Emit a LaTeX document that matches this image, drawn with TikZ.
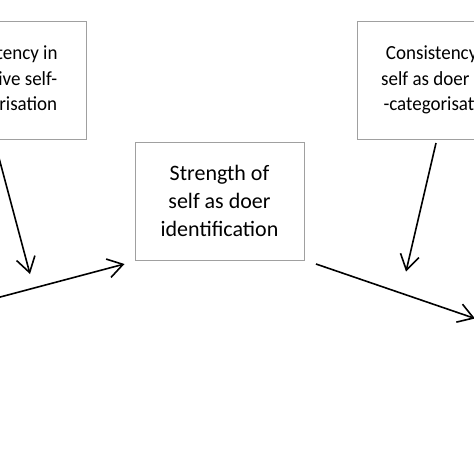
\documentclass[tikz,border=0pt]{standalone}
\usepackage{fontspec}
\setmainfont{Carlito}
\newfontfamily\narrowfont[FakeStretch=0.95]{Carlito}
\usetikzlibrary{arrows.meta}
\definecolor{boxgray}{HTML}{A0A0A0}
\begin{document}
\begin{tikzpicture}[x=1pt,y=-1pt,
  box/.style={draw=boxgray, line width=1pt, minimum height=118pt, align=center,
    font=\fontsize{22}{28}\selectfont, inner sep=0pt, text=black},
  topbox/.style={box, font=\narrowfont\fontsize{20}{25.5}\selectfont},
  arr/.style={line width=1.6pt, -{Straight Barb[length=15pt,width=19pt,line width=1.6pt]}}]
\useasboundingbox (0,0) rectangle (474,474);
\fill[white] (0,0) rectangle (474,474);
\node[topbox, minimum width=167pt] (lbox) at (2.6,80) {Consistency in\\collective self-\\categorisation};
\node[box, minimum width=169pt] (mbox) at (219.5,201) {Strength of\\self as doer\\identification};
\node[topbox, minimum width=168pt] (rbox) at (441,80) {Consistency in\\self as doer self\\-categorisation};
\coordinate (a1s) at (-5,143);
\coordinate (a1e) at (30,274);
\coordinate (a2s) at (-60,313);
\coordinate (a2e) at (124.5,264);
\coordinate (a3s) at (436,143);
\coordinate (a3e) at (406,271.5);
\coordinate (a4s) at (316,264);
\coordinate (a4e) at (475,318.5);
\draw[arr] (a1s) -- (a1e);
\draw[arr] (a2s) -- (a2e);
\draw[arr] (a3s) -- (a3e);
\draw[arr] (a4s) -- (a4e);
\end{tikzpicture}
\end{document}
